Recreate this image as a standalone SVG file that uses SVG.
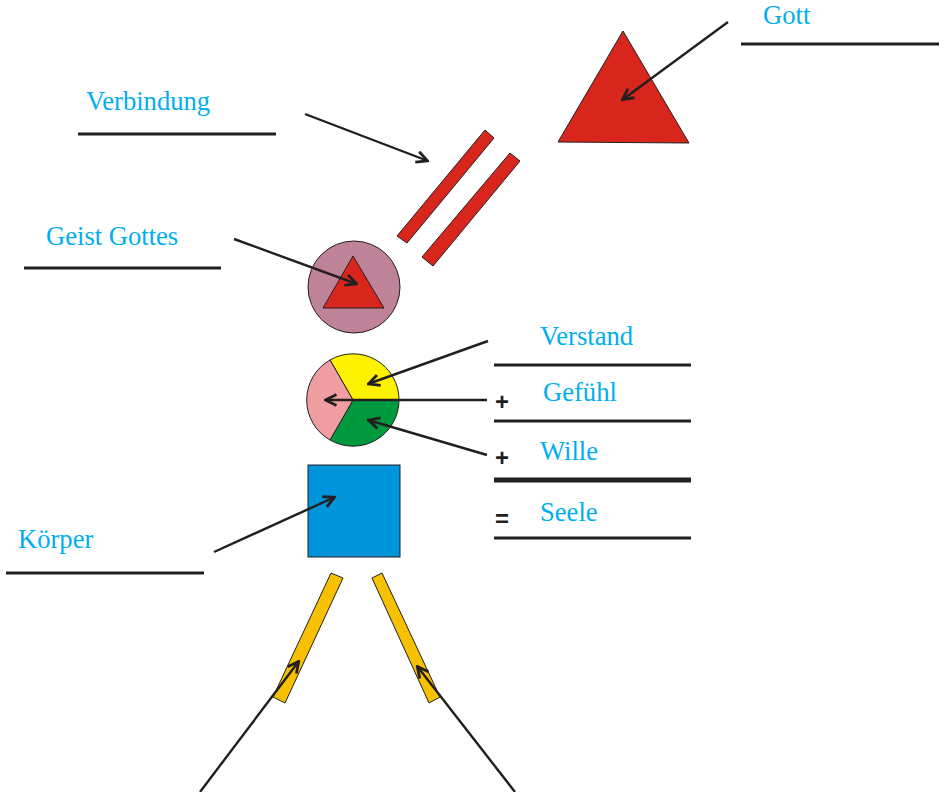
<svg xmlns="http://www.w3.org/2000/svg" width="943" height="792" viewBox="0 0 943 792">
<defs>
<marker id="ah" viewBox="0 0 14 14" refX="13" refY="7" markerWidth="14" markerHeight="14" markerUnits="userSpaceOnUse" orient="auto">
<path d="M1.5,1.5 L12.5,7 L1.5,12.5" fill="none" stroke="#231f20" stroke-width="2.8"/>
</marker>
</defs>
<style>
.lbl{font-family:"Liberation Serif","Times New Roman",serif;font-size:26.6px;fill:#00aeef}
.op{font-family:"Liberation Sans",Arial,sans-serif;font-size:24px;font-weight:bold;fill:#231f20}
.ul{stroke:#231f20;stroke-width:3;fill:none}
.sh{stroke:#231f20;stroke-width:1}
.arr{stroke:#231f20;stroke-width:2.4;fill:none;marker-end:url(#ah)}
</style>
<rect width="943" height="792" fill="#fff"/>
<g id="gott">
<polygon class="sh" points="623,31 558,142 689,143" fill="#d9261c"/>
<text class="lbl" x="763" y="24">Gott</text>
<line class="ul" x1="741" y1="44" x2="939" y2="44"/>
</g>
<g id="verbindung">
<polygon class="sh" points="485,130 494,138 407,243 397,236" fill="#d9261c"/>
<polygon class="sh" points="510,153 520,161 433,266 422,257" fill="#d9261c"/>
<text class="lbl" x="86" y="110">Verbindung</text>
<line class="ul" x1="78" y1="134" x2="276" y2="134"/>
</g>
<g id="geist">
<circle class="sh" cx="354" cy="287" r="46" fill="#bf8399"/>
<polygon class="sh" points="353,256 323,308 384,308" fill="#d9261c"/>
<text class="lbl" x="46" y="245">Geist Gottes</text>
<line class="ul" x1="24" y1="268" x2="221" y2="268"/>
</g>
<g id="seele-kreis">
<path class="sh" d="M353,400 L330,360 A46,46 0 0 1 399,400 Z" fill="#fff200"/>
<path class="sh" d="M353,400 L399,400 A46,46 0 0 1 330,440 Z" fill="#009a3e"/>
<path class="sh" d="M353,400 L330,440 A46,46 0 0 1 330,360 Z" fill="#f09ea1"/>
</g>
<g id="verstand">
<text class="lbl" x="540" y="345">Verstand</text>
<line class="ul" x1="494" y1="365" x2="691" y2="365"/>
</g>
<g id="gefuehl">
<text class="op" x="495" y="410">+</text>
<text class="lbl" x="543" y="401">Gefühl</text>
<line class="ul" x1="494" y1="421" x2="691" y2="421"/>
</g>
<g id="wille">
<text class="op" x="495" y="466">+</text>
<text class="lbl" x="540" y="460">Wille</text>
<line x1="494" y1="480" x2="691" y2="480" stroke="#231f20" stroke-width="5"/>
</g>
<g id="seele">
<text class="op" x="495" y="527">=</text>
<text class="lbl" x="540" y="521">Seele</text>
<line class="ul" x1="494" y1="538" x2="691" y2="538"/>
</g>
<g id="koerper">
<rect class="sh" x="308" y="465" width="92" height="92" fill="#0095db"/>
<text class="lbl" x="18" y="548">Körper</text>
<line class="ul" x1="6" y1="573" x2="204" y2="573"/>
</g>
<g id="beine">
<polygon class="sh" points="331,573 343,578 285,703 273,697" fill="#f7c000"/>
<polygon class="sh" points="372,578 382,573 440,697 429,703" fill="#f7c000"/>
</g>
<g id="connectors">
<line class="arr" x1="728" y1="22" x2="622" y2="100"/>
<line class="arr" x1="305" y1="114" x2="428" y2="161"/>
<line class="arr" x1="234" y1="239" x2="357" y2="284"/>
<line class="arr" x1="488" y1="341" x2="368" y2="384"/>
<line class="arr" x1="487" y1="400" x2="325" y2="400"/>
<line class="arr" x1="487" y1="455" x2="368" y2="420"/>
<line class="arr" x1="214" y1="552" x2="335" y2="497"/>
<line class="arr" x1="200" y1="792" x2="299" y2="661"/>
<line class="arr" x1="515" y1="792" x2="417" y2="666"/>
</g>
</svg>
